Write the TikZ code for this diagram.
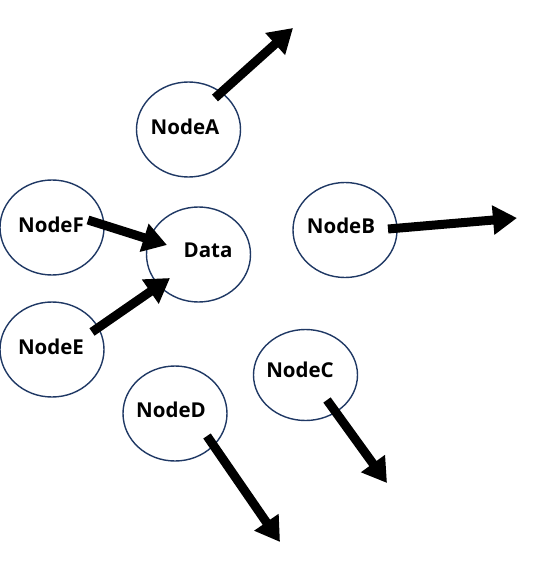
\documentclass[tikz,border=0pt]{standalone}
\usepackage{fontspec}
\setmainfont{Open Sans}
\usetikzlibrary{arrows.meta,shapes.geometric}
\definecolor{edgeblue}{HTML}{1F3864}
\tikzset{
  circ/.style={draw=edgeblue, line width=1.4pt, ellipse, minimum width=104pt, minimum height=95pt, inner sep=0pt},
  lbl/.style={font=\fontsize{20.5}{24}\selectfont\bfseries, inner sep=0pt},
  fat/.style={line width=9pt, -{Triangle[length=24pt, width=28pt]}}
}
\begin{document}
\begin{tikzpicture}[x=1pt, y=-1pt]
\useasboundingbox (0,0) rectangle (545,570);
% ellipses
\node[circ] (eA) at (188.5,129.5) {};
\node[circ] (eData) at (198.5,254.5) {};
\node[circ] (eF) at (52,227.5) {};
\node[circ] (eE) at (52,349.5) {};
\node[circ] (eB) at (345,230) {};
\node[circ, minimum height=91pt] (eC) at (305.5,375) {};
\node[circ] (eD) at (175,413.5) {};
% labels
\node[lbl] (tA) at (185,127) {NodeA};
\node[lbl] (tData) at (208,250) {Data};
\node[lbl] (tF) at (51,225) {NodeF};
\node[lbl] (tE) at (51,347) {NodeE};
\node[lbl] (tB) at (341,226) {NodeB};
\node[lbl] (tC) at (300,370) {NodeC};
\node[lbl] (tD) at (171,410) {NodeD};
% arrow endpoints
\coordinate (a0) at (215,98);
\coordinate (a1) at (293,28);
\coordinate (f0) at (88,220);
\coordinate (f1) at (167,245);
\coordinate (e0) at (92,332);
\coordinate (e1) at (170,278);
\coordinate (b0) at (388,229);
\coordinate (b1) at (517,218);
\coordinate (c0) at (327,400);
\coordinate (c1) at (387,483);
\coordinate (d0) at (207,436);
\coordinate (d1) at (280,542);
% arrows
\draw[fat] (a0) -- (a1);
\draw[fat] (f0) -- (f1);
\draw[fat] (e0) -- (e1);
\draw[fat] (b0) -- (b1);
\draw[fat] (c0) -- (c1);
\draw[fat] (d0) -- (d1);
\end{tikzpicture}
\end{document}
